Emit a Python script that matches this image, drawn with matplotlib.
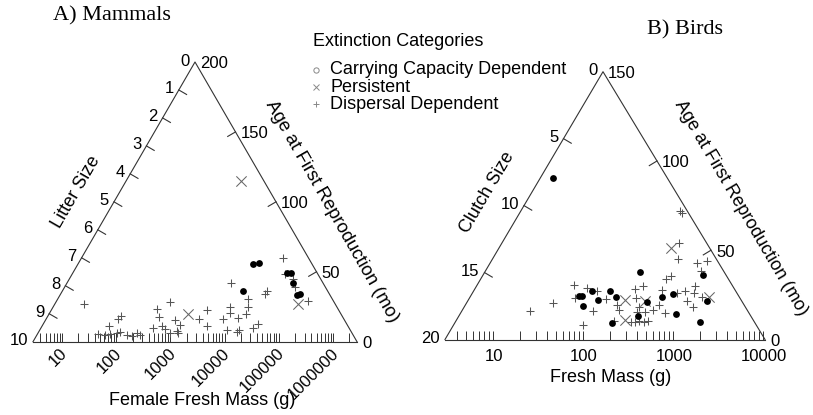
import numpy as np
import matplotlib
matplotlib.use("Agg")
import matplotlib.pyplot as plt
from matplotlib.transforms import offset_copy

# ---------------- data ----------------
# Mammals: female fresh mass (g) and age at first reproduction (mo)
mam_cc_mass = [33000, 43600, 141600, 166000, 185400, 22100, 221000, 246000]
mam_cc_age = [55.9, 56.3, 49.3, 49.1, 42.0, 36.3, 33.4, 33.8]
mam_pe_mass = [20100, 2140, 223000]
mam_pe_age = [114.9, 19.6, 27.0]
mam_dd_mass = [25, 74, 108, 123, 46, 62, 77, 104, 117, 158, 196, 242, 275,
               566, 617, 478, 700, 795, 984, 1216, 1503, 984, 1380, 1325,
               3370, 4735, 4735, 9330, 12590, 12590, 13130, 27050, 27050,
               24830, 17670, 11070, 18450, 33450, 41320, 60500, 55600,
               119400, 130000, 182800, 199000, 345600, 16940]
mam_dd_age = [27.0, 11.2, 16.2, 18.4, 5.5, 4.8, 5.5, 6.2, 6.9, 4.8, 4.1, 6.2,
              4.8, 23.4, 17.7, 9.8, 11.2, 9.1, 28.4, 15.5, 12.0, 6.2, 6.2, 7.7,
              16.2, 22.7, 11.2, 16.2, 24.8, 20.5, 42.0, 30.5, 24.8,
              19.8, 16.9, 8.4, 8.4, 9.8, 12.7, 36.3, 34.1,
              59.8, 48.4, 44.8, 39.1, 29.1, 6.9]

# Birds: fresh mass (g) and age at first reproduction (mo)
bird_cc_mass = [46, 430, 2171, 91.4, 97, 125, 201, 231, 148, 100.7, 518, 761,
                993, 2400, 411, 1072, 208, 1995]
bird_cc_age = [90.3, 37.6, 36.1, 24.4, 24.1, 27.4, 27.3, 23.8, 22.1, 19.0,
               21.0, 23.6, 25.3, 21.6, 13.3, 14.3, 9.2, 9.8]
bird_pe_mass = [943, 293, 2530, 489, 293]
bird_pe_age = [51.4, 22.4, 24.0, 21.8, 10.8]
bird_dd_mass = [1196, 1243, 1166, 1151, 1848, 2368, 2047, 950, 836, 79, 46,
                25.5, 101, 81.5, 110, 142, 130, 180, 237, 253, 221, 378, 470,
                393, 419, 395, 489, 595, 339, 378, 424, 476, 532, 704, 764,
                815, 1359, 1755, 1710, 1420, 1655, 2083, 1100]
bird_dd_age = [72.1, 70.9, 53.9, 44.9, 43.1, 43.8, 38.4, 35.3, 33.7, 30.5,
               20.7, 16.2, 8.1, 23.2, 28.7, 26.9, 16.0, 22.7, 19.3, 16.5, 10.1,
               28.3, 29.8, 23.1, 18.2, 15.6, 15.6, 16.5, 10.0, 10.0, 10.5,
               10.0, 10.6, 19.3, 28.0, 14.8, 27.4, 30.0, 26.3, 21.3, 18.4,
               24.0, 26.2]

mam_litter_labels = list(range(0, 11))
mam_age_labels = [0, 50, 100, 150, 200]
bird_clutch_labels = [0, 5, 10, 15, 20]
bird_age_labels = [0, 50, 100, 150]
mam_mass_labels = ["10", "100", "1000", "10000", "100000", "1000000"]
bird_mass_labels = ["10", "100", "1000", "10000"]
legend_labels = ["Carrying Capacity Dependent", "Persistent", "Dispersal Dependent"]

# ---------------- figure ----------------
W, H = 813, 415
fig = plt.figure(figsize=(W / 100, H / 100), dpi=100)
plt.rcParams['font.family'] = ['Liberation Sans', 'DejaVu Sans']
over = fig.add_axes([0, 0, 1, 1])
over.set_xlim(0, W)
over.set_ylim(H, 0)
over.axis('off')

LC = '#333333'
SANS = ['Liberation Sans', 'DejaVu Sans']
SERIF = ['Liberation Serif', 'DejaVu Serif']


def panel(bl, br, apex, lm_left, lm_right, age_max):
    x0, yb = bl
    x1 = br[0]
    yt = apex[1]
    ax = fig.add_axes([x0 / W, (H - yb) / H, (x1 - x0) / W, (yb - yt) / H])
    ax.set_xscale('log')
    ax.set_xlim(10 ** lm_left, 10 ** lm_right)
    ax.set_ylim(0, age_max)
    ax.patch.set_alpha(0)
    for s in ['top', 'left', 'right']:
        ax.spines[s].set_visible(False)
    ax.spines['bottom'].set_color(LC)
    ax.spines['bottom'].set_linewidth(0.8)
    ax.set_yticks([])
    # triangle sides
    over.plot([bl[0], apex[0], br[0]], [bl[1], apex[1], br[1]], color=LC, lw=0.8)
    return ax


def edge_ticks(p_from, p_to, vmax, tick_vals, label_vals, side):
    p_from = np.array(p_from, float)
    p_to = np.array(p_to, float)
    d = p_to - p_from
    n = np.array([d[1], -d[0]]) if side == 'left' else np.array([-d[1], d[0]])
    n = n / np.hypot(*n)
    if n[1] < 0:
        n = -n
    for v in tick_vals:
        p = p_from + d * v / vmax
        q = p + n * 9
        over.plot([p[0], q[0]], [p[1], q[1]], color=LC, lw=0.8)
    for v in label_vals:
        p = p_from + d * v / vmax
        if side == 'left':
            over.text(p[0] - 5, p[1] - 1, str(v), ha='right', va='center',
                      fontsize=12, family=SANS)
        else:
            over.text(p[0] + 5, p[1] + 2, str(v), ha='left', va='center',
                      fontsize=12, family=SANS)


def bottom_ticks(ax, first, last_decade):
    majors = [10 ** k for k in range(1, last_decade + 1)]
    minors = [m * 10 ** k for k in range(0, last_decade + 1) for m in range(2, 10)
              if m * 10 ** k >= first]
    lo, hi = ax.get_xlim()
    majors = [v for v in majors if lo <= v <= hi]
    minors = [v for v in minors if lo <= v <= hi]
    ax.set_xticks(majors)
    ax.set_xticks(minors, minor=True)
    ax.tick_params(axis='x', which='both', direction='in', length=6.5, width=0.7,
                   color=LC, labelbottom=False)
    return majors


def draw_points(ax, dd_m, dd_a, pe_m, pe_a, cc_m, cc_a):
    ax.scatter(dd_m, dd_a, marker='+', s=30, linewidths=0.75, color='#555555',
               clip_on=False, zorder=3)
    ax.scatter(pe_m, pe_a, marker='x', s=55, linewidths=0.75, color='#666666',
               clip_on=False, zorder=3)
    ax.scatter(cc_m, cc_a, marker='o', s=24, color='black', linewidths=0,
               clip_on=False, zorder=4)


# ---- Panel A: mammals ----
A_bl, A_br, A_ap = (33, 341.7), (357, 341.7), (195, 62)
axA = panel(A_bl, A_br, A_ap, 0.4649, 6.4428, 200)
majA = bottom_ticks(axA, 4, 6)
trA = offset_copy(axA.get_xaxis_transform(), fig=fig, x=3, y=-9, units='dots')
for v, lab in zip(majA, mam_mass_labels):
    axA.text(v, 0, lab, transform=trA, rotation=45, rotation_mode='anchor',
             ha='right', va='center', fontsize=12, family=SANS)
edge_ticks(A_ap, A_bl, 10, range(1, 10), mam_litter_labels, 'left')
edge_ticks(A_br, A_ap, 200, [50, 100, 150], mam_age_labels, 'right')
draw_points(axA, mam_dd_mass, mam_dd_age, mam_pe_mass, mam_pe_age,
            mam_cc_mass, mam_cc_age)

over.text(53, 16, "A) Mammals", ha='left', va='center', fontsize=16, family=SERIF)
over.text(76, 192, "Litter Size", rotation=60, ha='center', va='center',
          fontsize=13, family=SANS)
over.text(332, 211, "Age at First Reproduction (mo)", rotation=-60.3,
          ha='center', va='center', fontsize=13.3, family=SANS)
over.text(202, 400, "Female Fresh Mass (g)", ha='center', va='center',
          fontsize=13, family=SANS)

# ---- Panel B: birds ----
B_bl, B_br, B_ap = (445, 339.5), (765, 339.5), (603, 71.7)
axB = panel(B_bl, B_br, B_ap, 0.4667, 4.0222, 150)
majB = bottom_ticks(axB, 4, 4)
trB = offset_copy(axB.get_xaxis_transform(), fig=fig, x=1, y=-17, units='dots')
for v, lab in zip(majB, bird_mass_labels):
    axB.text(v, 0, lab, transform=trB, ha='center', va='center', fontsize=12,
             family=SANS)
edge_ticks(B_ap, B_bl, 20, [5, 10, 15], bird_clutch_labels, 'left')
edge_ticks(B_br, B_ap, 150, [50, 100], bird_age_labels, 'right')
draw_points(axB, bird_dd_mass, bird_dd_age, bird_pe_mass, bird_pe_age,
            bird_cc_mass, bird_cc_age)

over.text(647, 30, "B) Birds", ha='left', va='center', fontsize=16, family=SERIF)
over.text(487, 192, "Clutch Size", rotation=59.5, ha='center', va='center',
          fontsize=13, family=SANS)
over.text(741, 208, "Age at First Reproduction (mo)", rotation=-59.5,
          ha='center', va='center', fontsize=13, family=SANS)
over.text(611, 377, "Fresh Mass (g)", ha='center', va='center', fontsize=13,
          family=SANS)

# ---- Legend ----
over.text(313, 42, "Extinction Categories", ha='left', va='center', fontsize=13,
          family=SANS)
leg_y = [70, 87, 104]
over.plot([316], [leg_y[0]], marker='o', ms=3.8, mfc='none', mec='#888888', mew=0.7)
over.plot([316], [leg_y[1]], marker='x', ms=4.2, color='#888888', mew=0.7)
over.plot([316], [leg_y[2]], marker='+', ms=5, color='#888888', mew=0.7)
for y, lab in zip(leg_y, legend_labels):
    over.text(330, y, lab, ha='left', va='center', fontsize=13, family=SANS)

fig.savefig("out.png", dpi=100)
